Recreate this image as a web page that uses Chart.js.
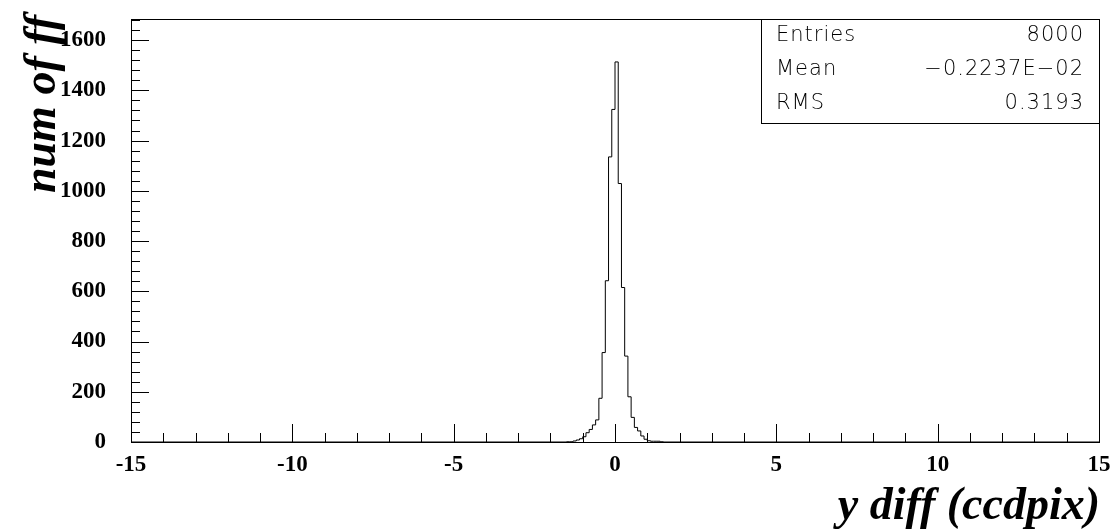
<!DOCTYPE html>
<html>
<head>
<meta charset="utf-8">
<title>y diff (ccdpix)</title>
<script src="https://cdn.jsdelivr.net/npm/chart.js@4.4.1/dist/chart.umd.min.js"></script>
<style>
  html, body { margin: 0; padding: 0; background: #fff; }
  #wrap { width: 1114px; height: 531px; }
</style>
</head>
<body>
<div id="wrap"><canvas id="hist" width="1114" height="531"></canvas></div>
<script>
'use strict';

// Histograma: 300 bins de -15 a 15 (largura 0.1). So os bins nao vazios ficam aqui.
const HIST_MIN = -15;
const HIST_MAX = 15;
const BIN_WIDTH = 0.1;
const FIRST_BIN = -1.5; // borda esquerda do primeiro bin em counts
const counts = [
  1, 1, 4, 8, 13, 21, 37, 50, 68, 88,
  174, 356, 642, 1135, 1324, 1513, 1029, 615, 342, 180,
  98, 58, 44, 24, 11, 5, 3, 3, 3, 1,
];

const Y_MAX = 1684;
const xLabelStep = 5;
const yLabelStep = 200;
const xMinorStep = 1;
const yMinorStep = 40;

const xTitle = 'y diff (ccdpix)';
const yTitle = 'num of ff';

const statsLabels = ['Entries', 'Mean', 'RMS'];
const statsValues = ['8000', '\u22120.2237E\u221202', '0.3193'];

const TITLE_FONT = 'italic bold 46px "Liberation Serif", "Times New Roman", serif';
const STATS_FONT = '200 21px "DejaVu Sans", sans-serif';
const tickFont = { family: '"Liberation Serif", serif', size: 23, weight: 'bold' };

// --- Pontos do contorno (step) ---------------------------------------------

function buildOutline() {
  const pts = [{ x: HIST_MIN, y: 0 }];
  counts.forEach((c, i) => {
    pts.push({ x: Math.round((FIRST_BIN + i * BIN_WIDTH) * 100) / 100, y: c });
  });
  pts.push({ x: Math.round((FIRST_BIN + counts.length * BIN_WIDTH) * 100) / 100, y: 0 });
  pts.push({ x: HIST_MAX, y: 0 });
  return pts;
}

// --- Moldura, ticks internos, titulos e caixa de estatisticas ---------------

const rootStyle = {
  id: 'rootStyle',
  afterDatasetsDraw(chart) {
    const { ctx, chartArea: a, scales } = chart;
    const xs = scales.x, ys = scales.y;
    ctx.save();
    ctx.strokeStyle = '#000';
    ctx.lineWidth = 1;

    // ticks do eixo x (para dentro)
    ctx.beginPath();
    for (let v = HIST_MIN; v <= HIST_MAX; v += xMinorStep) {
      const px = Math.round(xs.getPixelForValue(v)) + 0.5;
      const len = v % xLabelStep === 0 ? 18 : 9;
      ctx.moveTo(px, a.bottom);
      ctx.lineTo(px, a.bottom - len);
    }
    // ticks do eixo y
    for (let v = 0; v <= Y_MAX; v += yMinorStep) {
      const py = Math.round(ys.getPixelForValue(v)) + 0.5;
      const len = v % yLabelStep === 0 ? 18 : 9;
      ctx.moveTo(a.left, py);
      ctx.lineTo(a.left + len, py);
    }
    ctx.stroke();

    ctx.strokeRect(a.left + 0.5, a.top + 0.5, a.right - a.left, a.bottom - a.top);

    // caixa de estatisticas
    const bx = 761, by = a.top, bw = a.right - 761, bh = 104;
    ctx.fillStyle = '#fff';
    ctx.fillRect(bx, by, bw, bh);
    ctx.strokeRect(bx + 0.5, by + 0.5, bw, bh);
    ctx.fillStyle = '#000';
    ctx.font = STATS_FONT;
    ctx.letterSpacing = '1px';
    ctx.textBaseline = 'middle';
    statsLabels.forEach((lab, i) => {
      const ty = by + 17 + i * 34;
      ctx.textAlign = 'left';
      ctx.fillText(lab, 776, ty);
      ctx.textAlign = 'right';
      ctx.fillText(statsValues[i], 1084, ty);
    });
    ctx.letterSpacing = '0px';

    // titulos dos eixos
    ctx.font = TITLE_FONT;
    ctx.textBaseline = 'alphabetic';
    ctx.textAlign = 'right';
    ctx.fillText(xTitle, a.right + 1, 519);

    ctx.translate(55, 15);
    ctx.rotate(-Math.PI / 2);
    ctx.textAlign = 'right';
    ctx.fillText(yTitle, 0, 0);
    ctx.restore();
  },
};

// --- Chart ------------------------------------------------------------------

new Chart(document.getElementById('hist'), {
  type: 'line',
  data: {
    datasets: [{
      data: buildOutline(),
      stepped: 'before',
      borderColor: '#000',
      borderWidth: 1,
      pointRadius: 0,
      fill: false,
    }],
  },
  options: {
    responsive: false,
    animation: false,
    devicePixelRatio: 1,
    layout: { padding: { top: 19, right: 15, left: 0, bottom: 0 } },
    plugins: { legend: { display: false }, tooltip: { enabled: false } },
    scales: {
      x: {
        type: 'linear',
        min: HIST_MIN,
        max: HIST_MAX,
        grid: { display: false, drawTicks: false },
        border: { display: false },
        ticks: {
          stepSize: xLabelStep,
          padding: 9,
          color: '#000',
          font: tickFont,
          maxRotation: 0,
          includeBounds: false,
          callback: (v) => String(v),
        },
        afterFit(scale) {
          scale.height = 89;
          scale.paddingLeft = 0;
          scale.paddingRight = 0;
        },
      },
      y: {
        min: 0,
        max: Y_MAX,
        grid: { display: false, drawTicks: false },
        border: { display: false },
        ticks: {
          stepSize: yLabelStep,
          padding: 25,
          color: '#000',
          font: tickFont,
          includeBounds: false,
          callback: (v) => String(v),
        },
        afterFit(scale) {
          scale.width = 131;
          scale.paddingTop = 0;
          scale.paddingBottom = 0;
        },
      },
    },
  },
  plugins: [rootStyle],
});
</script>
</body>
</html>
